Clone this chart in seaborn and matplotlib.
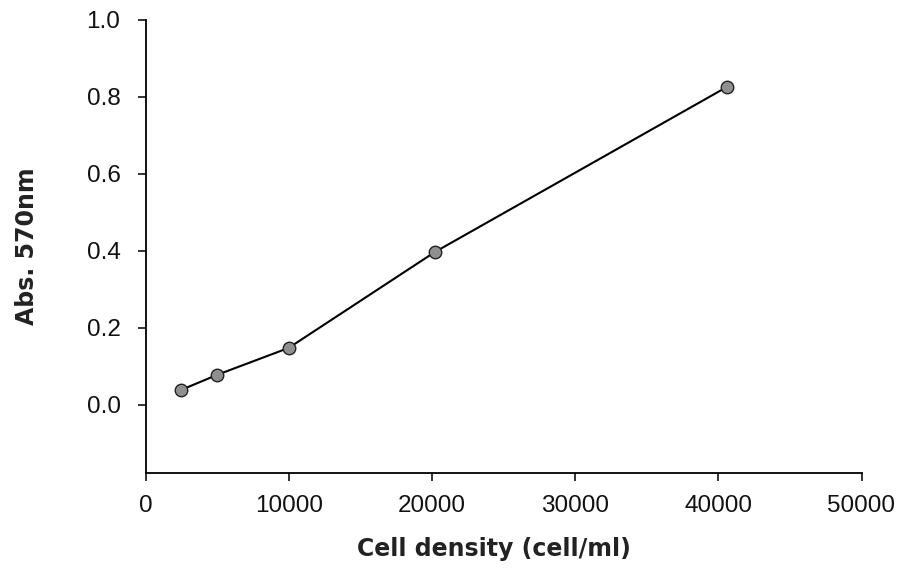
import matplotlib
matplotlib.use("Agg")
import matplotlib.pyplot as plt
import seaborn as sns
import pandas as pd

cell_density = [2500, 5000, 10000, 20200, 40600]
absorbance = [0.039, 0.078, 0.148, 0.397, 0.826]
x_ticks = [0, 10000, 20000, 30000, 40000, 50000]
y_ticks = [0.0, 0.2, 0.4, 0.6, 0.8, 1.0]

sns.set_theme(style="ticks")
plt.rcParams['font.family'] = ['Liberation Sans', 'DejaVu Sans']

df = pd.DataFrame({"x": cell_density, "y": absorbance})

fig = plt.figure(figsize=(9.05, 5.72), dpi=100)
ax = fig.add_axes([145.5/905, 1 - 473/572, 716/905, (473 - 20)/572])

sns.lineplot(data=df, x="x", y="y", ax=ax, color="black", linewidth=1.5,
             marker="o", markersize=9, markerfacecolor="#8f8f8f",
             markeredgecolor="#222222", markeredgewidth=1.0)

ax.set_xlim(0, 50000)
ax.set_ylim(-0.177, 1.0)
ax.set_xticks(x_ticks)
ax.set_xticklabels([str(t) for t in x_ticks])
ax.set_yticks(y_ticks)
ax.set_yticklabels([f"{t:.1f}" for t in y_ticks])
ax.tick_params(axis="both", labelsize=17.5, colors="#111111", length=6, width=1.2)
ax.tick_params(axis="y", pad=12)
ax.tick_params(axis="x", pad=10)
for s in ["top", "right"]:
    ax.spines[s].set_visible(False)
for s in ["left", "bottom"]:
    ax.spines[s].set_linewidth(1.3)
    ax.spines[s].set_color("black")

ax.set_xlabel("Cell density (cell/ml)", fontsize=17, fontweight="bold",
              family=["DejaVu Sans"], labelpad=14, color="#222222")
ax.xaxis.label.set_x((494 - 145.5) / 716)
ax.set_ylabel("Abs. 570nm", fontsize=17, fontweight="bold",
              family=["DejaVu Sans"], labelpad=34, color="#222222")

fig.savefig("out.png", dpi=100, facecolor="white")
